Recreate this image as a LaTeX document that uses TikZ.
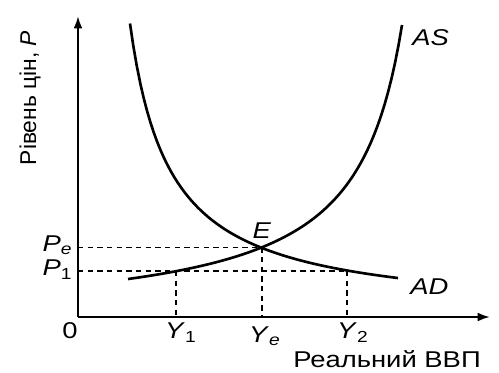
\documentclass[tikz,border=0pt]{standalone}
\usepackage{fontspec}
\setmainfont{Liberation Sans}
\usetikzlibrary{arrows.meta}

\tikzset{
  axis/.style={line width=1.2pt,-{Latex[length=7pt,width=5pt]}},
  curve/.style={line width=1.5pt},
  guide/.style={line width=0.9pt,dash pattern=on 3pt off 2.5pt},
  lbl/.style={font=\fontsize{13}{15}\selectfont,inner sep=0pt,xscale=1.2,transform shape}
}

\begin{document}
\begin{tikzpicture}[x=0.02cm,y=-0.02cm]
\useasboundingbox (0,0) rectangle (499,372);
\coordinate (O) at (78,317);
\coordinate (ytop) at (78,16);
\coordinate (xend) at (490,317);
\coordinate (E) at (262,247.5);
\coordinate (A) at (176,271);
\coordinate (B) at (347,271);
\coordinate (pe) at (78,247.5);
\coordinate (p1) at (78,271);
% axes
\draw[axis] (O) -- (ytop);
\draw[axis] (O) -- (xend);
% guide lines
\draw[guide] (pe) -- (E);
\draw[guide] (p1) -- (B);
\draw[guide] (A) -- (A |- O);
\draw[guide] (E) -- (E |- O);
\draw[guide] (B) -- (B |- O);
% AD and AS
\draw[curve] plot[domain=130:398,samples=80] (\x,{317-(11700/(\x-90)+1)});
\draw[curve] plot[domain=128:402,samples=80] (\x,{317-(14328/(450-\x)-6.5)});
% labels
\node[lbl] (lE) at (262,231) {\textit{E}};
\node[lbl,anchor=west] (lAS) at (412,38) {\textit{AS}};
\node[lbl,anchor=west] (lAD) at (410,287) {\textit{AD}};
\node[lbl] (l0) at (70,331) {0};
\node[lbl,anchor=east] (lPe) at (73,245) {\textit{P}\textsubscript{\textit{e}}};
\node[lbl,anchor=east] (lP1) at (73,270) {\textit{P}\textsubscript{1}};
\node[lbl] (lY1) at (181,333) {\textit{Y}\textsubscript{1}};
\node[lbl] (lYe) at (265,336) {\textit{Y}\textsubscript{\textit{e}}};
\node[lbl] (lY2) at (353,333) {\textit{Y}\textsubscript{2}};
\node[lbl] (lx) at (387,359) {Реальний ВВП};
\node[font=\fontsize{13}{15}\selectfont,inner sep=0pt,rotate=90] (ly) at (30,98) {Рівень цін, \textit{P}};
\end{tikzpicture}
\end{document}
